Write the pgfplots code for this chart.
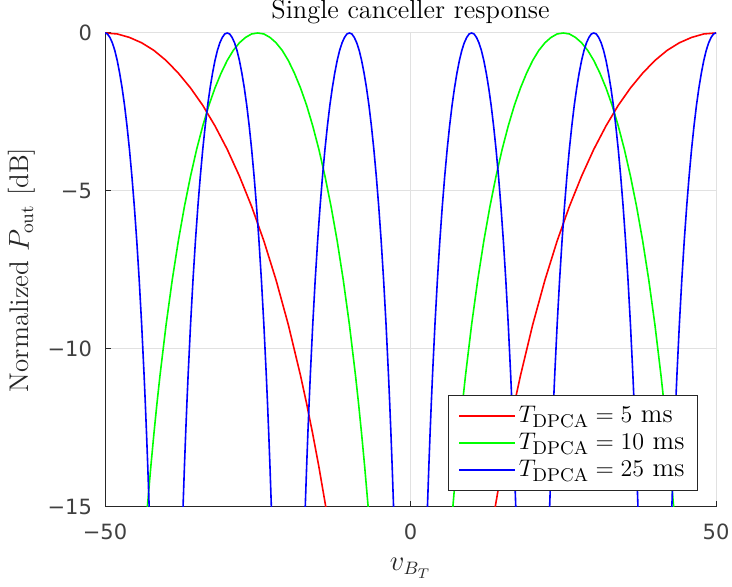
\documentclass[border=0pt]{standalone}
\usepackage{pgfplots}
\pgfplotsset{compat=1.18}
\usepackage{pgfplotstable}
\usepackage{fontspec}
\newfontfamily\tickfont{DejaVu Sans}
\definecolor{axgray}{RGB}{38,38,38}
\definecolor{ticktext}{RGB}{64,64,64}
\definecolor{gridgray}{RGB}{225,225,225}
\definecolor{mred}{RGB}{255,0,0}
\definecolor{mgreen}{RGB}{0,255,0}
\definecolor{mblue}{RGB}{0,0,255}

\pgfplotstableread{
u h b1 b2 b3 b4 b5 b6 g1 g2 r1 r2
0.1386 -15 -57.228 -37.228 -17.228 2.772 22.772 42.772 -43.07 6.93 -86.14 13.86
0.15 -13.72 -57 -37 -17 3 23 43 -42.5 7.5 -85 15
0.16 -12.69 -56.8 -36.8 -16.8 3.2 23.2 43.2 -42 8 -84 16
0.17 -11.73 -56.6 -36.6 -16.6 3.4 23.4 43.4 -41.5 8.5 -83 17
0.18 -10.84 -56.4 -36.4 -16.4 3.6 23.6 43.6 -41 9 -82 18
0.20 -9.23 -56 -36 -16 4 24 44 -40 10 -80 20
0.22 -7.82 -55.6 -35.6 -15.6 4.4 24.4 44.4 -39 11 -78 22
0.24 -6.58 -55.2 -35.2 -15.2 4.8 24.8 44.8 -38 12 -76 24
0.26 -5.49 -54.8 -34.8 -14.8 5.2 25.2 45.2 -37 13 -74 26
0.28 -4.53 -54.4 -34.4 -14.4 5.6 25.6 45.6 -36 14 -72 28
0.30 -3.68 -54 -34 -14 6 26 46 -35 15 -70 30
0.32 -2.94 -53.6 -33.6 -13.6 6.4 26.4 46.4 -34 16 -68 32
0.34 -2.29 -53.2 -33.2 -13.2 6.8 26.8 46.8 -33 17 -66 34
0.36 -1.74 -52.8 -32.8 -12.8 7.2 27.2 47.2 -32 18 -64 36
0.38 -1.27 -52.4 -32.4 -12.4 7.6 27.6 47.6 -31 19 -62 38
0.40 -0.87 -52 -32 -12 8 28 48 -30 20 -60 40
0.42 -0.55 -51.6 -31.6 -11.6 8.4 28.4 48.4 -29 21 -58 42
0.44 -0.31 -51.2 -31.2 -11.2 8.8 28.8 48.8 -28 22 -56 44
0.46 -0.14 -50.8 -30.8 -10.8 9.2 29.2 49.2 -27 23 -54 46
0.48 -0.03 -50.4 -30.4 -10.4 9.6 29.6 49.6 -26 24 -52 48
0.50 0 -50 -30 -10 10 30 50 -25 25 -50 50
0.52 -0.03 -49.6 -29.6 -9.6 10.4 30.4 50.4 -24 26 -48 52
0.54 -0.14 -49.2 -29.2 -9.2 10.8 30.8 50.8 -23 27 -46 54
0.56 -0.31 -48.8 -28.8 -8.8 11.2 31.2 51.2 -22 28 -44 56
0.58 -0.55 -48.4 -28.4 -8.4 11.6 31.6 51.6 -21 29 -42 58
0.60 -0.87 -48 -28 -8 12 32 52 -20 30 -40 60
0.62 -1.27 -47.6 -27.6 -7.6 12.4 32.4 52.4 -19 31 -38 62
0.64 -1.74 -47.2 -27.2 -7.2 12.8 32.8 52.8 -18 32 -36 64
0.66 -2.29 -46.8 -26.8 -6.8 13.2 33.2 53.2 -17 33 -34 66
0.68 -2.94 -46.4 -26.4 -6.4 13.6 33.6 53.6 -16 34 -32 68
0.70 -3.68 -46 -26 -6 14 34 54 -15 35 -30 70
0.72 -4.53 -45.6 -25.6 -5.6 14.4 34.4 54.4 -14 36 -28 72
0.74 -5.49 -45.2 -25.2 -5.2 14.8 34.8 54.8 -13 37 -26 74
0.76 -6.58 -44.8 -24.8 -4.8 15.2 35.2 55.2 -12 38 -24 76
0.78 -7.82 -44.4 -24.4 -4.4 15.6 35.6 55.6 -11 39 -22 78
0.80 -9.23 -44 -24 -4 16 36 56 -10 40 -20 80
0.82 -10.84 -43.6 -23.6 -3.6 16.4 36.4 56.4 -9 41 -18 82
0.83 -11.73 -43.4 -23.4 -3.4 16.6 36.6 56.6 -8.5 41.5 -17 83
0.84 -12.69 -43.2 -23.2 -3.2 16.8 36.8 56.8 -8 42 -16 84
0.85 -13.72 -43 -23 -3 17 37 57 -7.5 42.5 -15 85
0.8614 -15 -42.772 -22.772 -2.772 17.228 37.228 57.228 -6.93 43.07 -13.86 86.14
}\lobes

\begin{document}
\begin{tikzpicture}
\begin{axis}[
  name=ax, at={(0,0)}, anchor=south west,
  scale only axis, width=305.5pt, height=237pt,
  xmin=-50, xmax=50, ymin=-15, ymax=0,
  axis x line=bottom, axis y line=left,
  axis line style={-, draw=axgray, line width=0.5pt},
  xtick={-50,0,50}, xticklabels={−50,0,50},
  ytick={-15,-10,-5,0}, yticklabels={−15,−10,−5,0},
  tick align=inside, major tick length=3pt,
  tick style={draw=axgray, line width=0.5pt},
  grid=major, major grid style={draw=gridgray, line width=0.5pt},
  ticklabel style={font=\tickfont\fontsize{10.5}{12}\selectfont, text=ticktext},
  xticklabel style={anchor=north, yshift=-5pt},
  yticklabel style={anchor=east, xshift=-3pt},
  xlabel={$v_{B_T}$},
  xlabel style={at={(axis description cs:0.5,-0.1287)}, anchor=center, font=\fontsize{13.5}{16}\selectfont, text=axgray},
  ylabel={Normalized $P_{\mathrm{out}}$\ [dB]},
  ylabel style={at={(axis description cs:-0.1358,0.5)}, anchor=center, font=\fontsize{13.5}{16}\selectfont, text=axgray},
  legend style={at={(axis description cs:0.9705,0.034)}, anchor=south east,
    draw=axgray, line width=0.5pt, fill=white, font=\fontsize{13.2}{15}\selectfont,
    inner xsep=5pt, inner ysep=3.8pt, row sep=0.8pt,
    nodes={inner sep=1.5pt}},
  legend cell align=left,
]
\addlegendimage{legend image code/.code={\draw[draw=mred, line width=0.6pt] (0pt,0pt) -- (28pt,0pt);}}
\addlegendentry{$T_{\mathrm{DPCA}} = 5~\mathrm{ms}$\hspace{-3.5pt}}
\addlegendimage{legend image code/.code={\draw[draw=mgreen, line width=0.6pt] (0pt,0pt) -- (28pt,0pt);}}
\addlegendentry{$T_{\mathrm{DPCA}} = 10~\mathrm{ms}$\hspace{-3.5pt}}
\addlegendimage{legend image code/.code={\draw[draw=mblue, line width=0.6pt] (0pt,0pt) -- (28pt,0pt);}}
\addlegendentry{$T_{\mathrm{DPCA}} = 25~\mathrm{ms}$\hspace{-3.5pt}}
\addplot[mred, line width=0.8pt, forget plot] table[x=r1, y=h] {\lobes};
\addplot[mred, line width=0.8pt, forget plot] table[x=r2, y=h] {\lobes};
\addplot[mgreen, line width=0.8pt, forget plot] table[x=g1, y=h] {\lobes};
\addplot[mgreen, line width=0.8pt, forget plot] table[x=g2, y=h] {\lobes};
\addplot[mblue, line width=0.8pt, forget plot] table[x=b1, y=h] {\lobes};
\addplot[mblue, line width=0.8pt, forget plot] table[x=b2, y=h] {\lobes};
\addplot[mblue, line width=0.8pt, forget plot] table[x=b3, y=h] {\lobes};
\addplot[mblue, line width=0.8pt, forget plot] table[x=b4, y=h] {\lobes};
\addplot[mblue, line width=0.8pt, forget plot] table[x=b5, y=h] {\lobes};
\addplot[mblue, line width=0.8pt, forget plot] table[x=b6, y=h] {\lobes};
\end{axis}
\node[anchor=base, inner sep=0pt, font=\fontsize{13.2}{16}\selectfont] at (152.75pt,244.3pt) {Single canceller response};
\pgfresetboundingbox
\path[use as bounding box] (-52.5pt,-40pt) rectangle (313.5pt,253.5pt);
\end{tikzpicture}
\end{document}
